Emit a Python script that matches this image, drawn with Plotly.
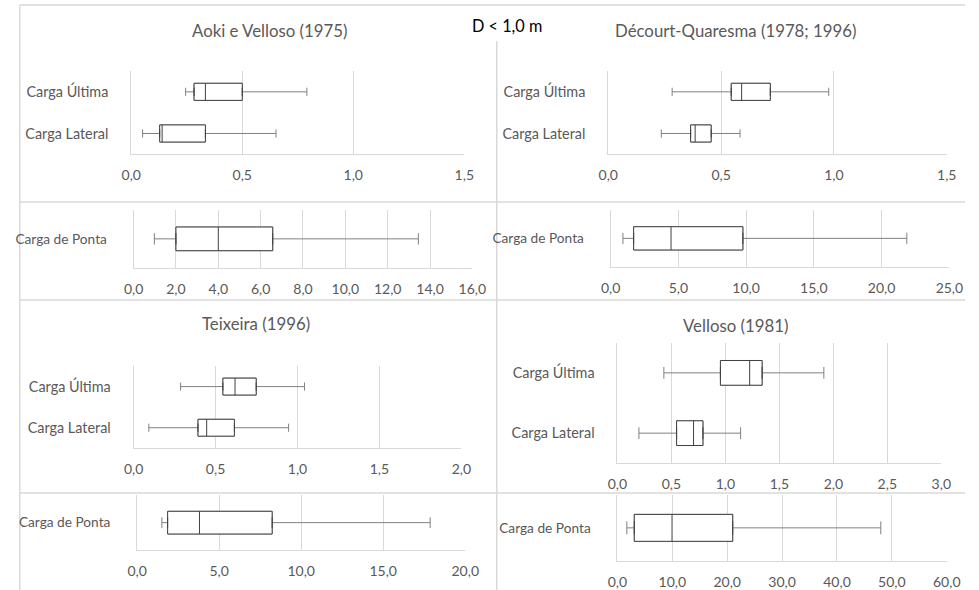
import plotly.graph_objects as go

W, H = 979, 590

# Five-number summaries [min, Q1, median, Q3, max] per method and load component
methods = ["Aoki e Velloso (1975)", "Décourt-Quaresma (1978; 1996)",
           "Teixeira (1996)", "Velloso (1981)"]
categories = ["Carga Lateral", "Carga Última"]
ponta_category = ["Carga de Ponta"]

aoki_ultima = [0.245, 0.283, 0.334, 0.500, 0.791]
aoki_lateral = [0.051, 0.128, 0.139, 0.334, 0.652]
aoki_ponta = [0.98, 2.00, 4.00, 6.57, 13.45]

decourt_ultima = [0.283, 0.545, 0.591, 0.718, 0.977]
decourt_lateral = [0.235, 0.365, 0.385, 0.456, 0.584]
decourt_ponta = [0.91, 1.70, 4.46, 9.76, 21.86]

teixeira_ultima = [0.287, 0.545, 0.619, 0.748, 1.043]
teixeira_lateral = [0.093, 0.393, 0.446, 0.615, 0.946]
teixeira_ponta = [1.51, 1.86, 3.80, 8.23, 17.86]

velloso_ultima = [0.430, 0.954, 1.225, 1.340, 1.912]
velloso_lateral = [0.199, 0.548, 0.705, 0.792, 1.141]
velloso_ponta = [1.71, 3.07, 9.95, 21.00, 47.98]

# Axis maxima and tick steps for each panel
x_max = [1.5, 1.5, 16, 25, 2.0, 3.0, 20, 60]
x_step = [0.5, 0.5, 2, 5, 0.5, 0.5, 5, 10]

# Plot-area rectangles in pixels: (left, right, top, bottom)
areas = [
    (124.3, 465.7, 71, 154.3),
    (613.3, 960.3, 71, 154.3),
    (126.7, 474.0, 210, 267.7),
    (615.7, 963.0, 210, 266.7),
    (126.7, 462.7, 366, 448.3),
    (622.7, 954.7, 342.7, 463.3),
    (130.3, 466.7, 495, 550.3),
    (622.7, 960.3, 495, 560.7),
]

panels = [
    (categories, [aoki_lateral, aoki_ultima]),
    (categories, [decourt_lateral, decourt_ultima]),
    (ponta_category, [aoki_ponta]),
    (ponta_category, [decourt_ponta]),
    (categories, [teixeira_lateral, teixeira_ultima]),
    (categories, [velloso_lateral, velloso_ultima]),
    (ponta_category, [teixeira_ponta]),
    (ponta_category, [velloso_ponta]),
]

FONT = "Lato, 'Open Sans', sans-serif"
GRAY_TXT = "#595959"
GRID = "#d9d9d9"
BOX_LINE = "#404040"
WHISKER_LINE = "#808080"


def px(x):
    return x / W


def py(y):
    return 1 - y / H


fig = go.Figure()
layout = {}

for i, ((cats, stats), (x0, x1, y0, y1)) in enumerate(zip(panels, areas)):
    n = i + 1
    xa = "x" if n == 1 else f"x{n}"
    ya = "y" if n == 1 else f"y{n}"
    single = len(cats) == 1
    common = dict(
        y=cats, orientation="h", xaxis=xa, yaxis=ya,
        width=0.41, whiskerwidth=0.48, fillcolor="white",
        boxpoints=False, showlegend=False, hoverinfo="skip",
    )
    # whiskers (lighter grey)
    fig.add_trace(go.Box(
        lowerfence=[s[0] for s in stats],
        q1=[s[1] for s in stats],
        median=[s[2] for s in stats],
        q3=[s[3] for s in stats],
        upperfence=[s[4] for s in stats],
        line=dict(color=WHISKER_LINE, width=1),
        **common,
    ))
    # box and median (darker outline) drawn on top
    fig.add_trace(go.Box(
        lowerfence=[s[1] for s in stats],
        q1=[s[1] for s in stats],
        median=[s[2] for s in stats],
        q3=[s[3] for s in stats],
        upperfence=[s[3] for s in stats],
        line=dict(color=BOX_LINE, width=1),
        **common,
    ))
    xkey = "xaxis" if n == 1 else f"xaxis{n}"
    ykey = "yaxis" if n == 1 else f"yaxis{n}"
    layout[xkey] = dict(
        domain=[px(x0), px(x1)],
        anchor=ya,
        range=[0, x_max[i]],
        tick0=0, dtick=x_step[i],
        tickformat=".1f",
        showgrid=True, gridcolor=GRID, gridwidth=1,
        zeroline=False,
        showline=True, linecolor=GRID, linewidth=1,
        ticks="",
        ticklabelstandoff=8,
        tickfont=dict(family=FONT, size=14, color=GRAY_TXT),
        fixedrange=True,
    )
    layout[ykey] = dict(
        domain=[py(y1), py(y0)],
        anchor=xa,
        type="category",
        categoryorder="array",
        categoryarray=cats,
        range=[-0.5, len(cats) - 0.5],
        showgrid=False, zeroline=False,
        showline=True, linecolor=GRID, linewidth=1,
        ticks="",
        ticklabelstandoff=23 if single else 19,
        tickfont=dict(family=FONT, size=13.7 if single else 14.4,
                      color=GRAY_TXT),
        fixedrange=True,
    )

fig.update_layout(boxmode="overlay")

# Chart titles
title_pos = [(266, 31), (744, 31), (252, 323), (743.5, 325)]
annotations = []
for name, (tx, ty) in zip(methods, title_pos):
    annotations.append(dict(
        text=name, x=px(tx), y=py(ty), xref="paper", yref="paper",
        xanchor="center", yanchor="middle", showarrow=False,
        font=dict(family=FONT, size=16.8, color=GRAY_TXT),
    ))
annotations.append(dict(
    text="D < 1,0 m", x=px(509), y=py(25), xref="paper", yref="paper",
    xanchor="center", yanchor="middle", showarrow=False,
    bgcolor="white",
    font=dict(family=FONT, size=16.3, color="black"),
))


# Chart-area frames
def hline(y, xa, xb):
    return dict(type="line", xref="paper", yref="paper",
                x0=px(xa), x1=px(xb), y0=py(y), y1=py(y),
                line=dict(color=GRID, width=1.5), layer="below")


def vline(x, ya, yb):
    return dict(type="line", xref="paper", yref="paper",
                x0=px(x), x1=px(x), y0=py(ya), y1=py(yb),
                line=dict(color=GRID, width=1.5), layer="below")


shapes = [
    hline(5, 10, W),
    vline(10, 5, H),
    vline(499, 41, H),
    hline(202, 10, W),
    hline(300, 10, W),
    hline(493, 10, W),
]

fig.update_layout(
    width=W, height=H,
    margin=dict(l=0, r=0, t=0, b=0),
    paper_bgcolor="white",
    plot_bgcolor="white",
    separators=",.",
    annotations=annotations,
    shapes=shapes,
    **layout,
)

fig.write_html("out.html")
